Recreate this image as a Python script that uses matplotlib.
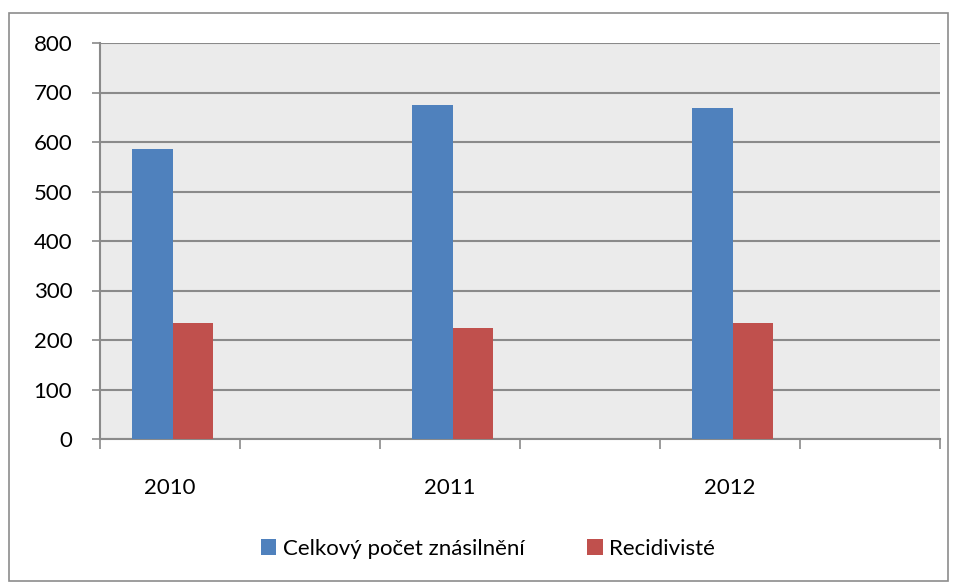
import matplotlib.pyplot as plt
import numpy as np
from matplotlib.patches import Rectangle

# ---------------------------------------------------------------------------
# data
# ---------------------------------------------------------------------------
categories = ['2010', '', '2011', '', '2012', '']
celkem     = [585, np.nan, 675, np.nan, 668, np.nan]   # Celkový počet znásilnění
recidiva   = [235, np.nan, 224, np.nan, 235, np.nan]   # Recidivisté
series     = ['Celkový počet znásilnění', 'Recidivisté']
yticks     = [0, 100, 200, 300, 400, 500, 600, 700, 800]

plt.rcParams['font.family'] = ['Lato', 'DejaVu Sans']

fig = plt.figure(figsize=(9.55, 5.83), dpi=100)
ax = fig.add_axes([100 / 955, 1 - 439 / 583, 840 / 955, 396 / 583])

# outer chart border
fig.patches.append(Rectangle((9 / 955, 2 / 583), 939 / 955, 568 / 583,
                             transform=fig.transFigure, fill=False,
                             edgecolor='#8c8c8c', linewidth=1.2))

ax.set_facecolor('#ebebeb')
x = np.arange(len(categories))
w = 0.286
shift = 0.018
ax.bar(x - w / 2 + shift, celkem, w, color='#4f81bd', label=series[0], zorder=3)
ax.bar(x + w / 2 + shift, recidiva, w, color='#c0504d', label=series[1], zorder=3)

ax.set_xlim(-0.5, len(categories) - 0.5)
ax.set_ylim(0, 800)
ax.set_yticks(yticks)
ax.yaxis.grid(True, color='#8a8a8a', linewidth=1.5, zorder=1)
ax.set_axisbelow(True)

# category boundaries carry the tick marks, labels sit in the middle
ax.set_xticks(np.arange(len(categories) + 1) - 0.5)
ax.set_xticklabels([])
ax.set_xticks(x, minor=True)
ax.set_xticklabels(categories, minor=True)
ax.tick_params(axis='x', which='major', length=7, width=1.2, color='#8a8a8a')
ax.tick_params(axis='x', which='minor', length=0, pad=28, labelsize=16)
ax.tick_params(axis='y', length=6, width=1.2, color='#8a8a8a', labelsize=16, pad=14)

for side in ['top', 'right']:
    ax.spines[side].set_visible(False)
for side in ['left', 'bottom']:
    ax.spines[side].set_color('#8a8a8a')
    ax.spines[side].set_linewidth(1.5)

fig.legend(loc='center', bbox_to_anchor=(488 / 955, 1 - 549 / 583), ncol=2,
           frameon=False, fontsize=16, handlelength=0.7, handleheight=0.7,
           handletextpad=0.3, columnspacing=2.8)

fig.savefig('out.png', dpi=100)
